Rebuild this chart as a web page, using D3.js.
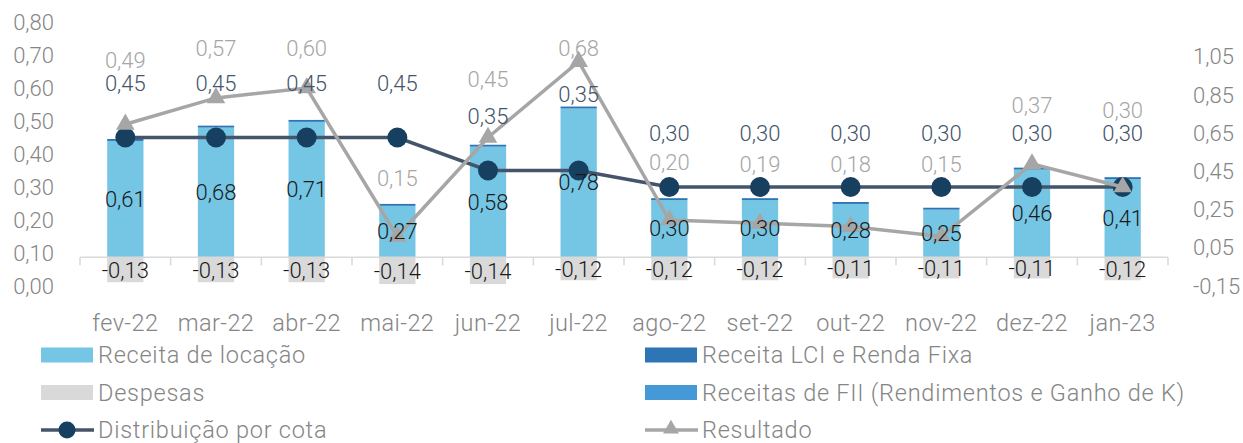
<!DOCTYPE html>
<html>
<head>
<meta charset="utf-8">
<script src="https://cdn.jsdelivr.net/npm/d3@7"></script>
<style>
  body { margin: 0; background: #fff; }
  svg text { font-family: Roboto, "Noto Sans", sans-serif; font-weight: 300; }
</style>
</head>
<body>
<div id="chart"></div>
<script>
// data
const months = ['fev-22','mar-22','abr-22','mai-22','jun-22','jul-22','ago-22','set-22','out-22','nov-22','dez-22','jan-23'];
const receitaLocacao = [0.61, 0.68, 0.71, 0.27, 0.58, 0.78, 0.30, 0.30, 0.28, 0.25, 0.46, 0.41];
const receitaLCI = [0.01, 0.01, 0.01, 0.01, 0.01, 0.01, 0.01, 0.01, 0.01, 0.01, 0.01, 0.01];
const receitaFII = [0, 0, 0, 0, 0, 0, 0, 0, 0, 0, 0, 0];
const despesas = [-0.13, -0.13, -0.13, -0.14, -0.14, -0.12, -0.12, -0.12, -0.11, -0.11, -0.11, -0.12];
const distribuicao = [0.45, 0.45, 0.45, 0.45, 0.35, 0.35, 0.30, 0.30, 0.30, 0.30, 0.30, 0.30];
const resultado = [0.49, 0.57, 0.60, 0.15, 0.45, 0.68, 0.20, 0.19, 0.18, 0.15, 0.37, 0.30];
const leftTicks = [0, 0.1, 0.2, 0.3, 0.4, 0.5, 0.6, 0.7, 0.8];
const rightTicks = [-0.15, 0.05, 0.25, 0.45, 0.65, 0.85, 1.05];

const width = 1243, height = 443;
const plot = {left: 80, right: 1168, top: 22, bottom: 286};

const col = {
  locacao: '#75c6e4', lci: '#2e75b6', fii: '#4499d6', desp: '#d9d9d9',
  dist: '#44546a', distDot: '#173f5f', res: '#a6a6a6',
  axisText: '#858585', barText: '#1a1a1a', axisLine: '#d9d9d9'
};

const br = d3.formatLocale({decimal: ',', thousands: '.', grouping: [3], currency: ['R$', ''], minus: '-'});
const fmt = br.format('.2f');

const svg = d3.select('#chart').append('svg')
  .attr('width', width).attr('height', height);

const x = d3.scaleBand().domain(months)
  .range([plot.left, plot.right])
  .paddingInner(0.6).paddingOuter(0.3);
const step = x.step();
const cx = m => x(m) + x.bandwidth() / 2;

const yL = d3.scaleLinear().domain([0, 0.8]).range([plot.bottom, plot.top]);
const yR = d3.scaleLinear().domain([-0.15, 1.233]).range([plot.bottom, plot.top]);

// left axis labels
svg.append('g').selectAll('text').data(leftTicks).enter().append('text')
  .attr('x', 54).attr('y', d => yL(d))
  .attr('text-anchor', 'end').attr('dominant-baseline', 'central')
  .attr('font-size', 22).attr('fill', col.axisText)
  .text(d => fmt(d));

// right axis labels
svg.append('g').selectAll('text').data(rightTicks).enter().append('text')
  .attr('x', 1193).attr('y', d => yR(d))
  .attr('dominant-baseline', 'central')
  .attr('font-size', 22).attr('fill', col.axisText)
  .text(d => fmt(d));

// stacked bars (right axis)
const stackData = months.map((m, i) => ({m, loc: receitaLocacao[i], fii: receitaFII[i], lci: receitaLCI[i]}));
const stack = d3.stack().keys(['loc', 'fii', 'lci'])(stackData);
const stackColor = {loc: col.locacao, fii: col.fii, lci: col.lci};

svg.append('g').selectAll('g').data(stack).enter().append('g')
  .attr('fill', s => stackColor[s.key])
  .selectAll('rect').data(s => s).enter().append('rect')
  .attr('x', d => x(d.data.m)).attr('width', x.bandwidth())
  .attr('y', d => yR(d[1])).attr('height', d => yR(d[0]) - yR(d[1]));

svg.append('g').selectAll('rect').data(despesas).enter().append('rect')
  .attr('fill', col.desp)
  .attr('x', (d, i) => x(months[i])).attr('width', x.bandwidth())
  .attr('y', yR(0)).attr('height', d => yR(d) - yR(0));

// category axis
const axisY = yR(0);
const ax = svg.append('g').attr('stroke', col.axisLine).attr('stroke-width', 1.5);
ax.append('line').attr('x1', plot.left).attr('x2', plot.right).attr('y1', axisY).attr('y2', axisY);
ax.selectAll('line.tick').data(d3.range(months.length + 1)).enter().append('line')
  .attr('class', 'tick')
  .attr('x1', i => plot.left + i * step).attr('x2', i => plot.left + i * step)
  .attr('y1', axisY).attr('y2', axisY + 8);

svg.append('g').selectAll('text').data(months).enter().append('text')
  .attr('x', d => cx(d)).attr('y', 323)
  .attr('text-anchor', 'middle').attr('dominant-baseline', 'central')
  .attr('font-size', 23.5).attr('fill', col.axisText)
  .attr('letter-spacing', 0.4)
  .text(d => d);

// lines (left axis)
const line = d3.line().x(d => cx(d.m)).y(d => yL(d.v));
const distPts = months.map((m, i) => ({m, v: distribuicao[i]}));
const resPts = months.map((m, i) => ({m, v: resultado[i]}));

svg.append('path').datum(distPts)
  .attr('d', line).attr('fill', 'none')
  .attr('stroke', col.dist).attr('stroke-width', 3.5);
svg.append('g').selectAll('circle').data(distPts).enter().append('circle')
  .attr('cx', d => cx(d.m)).attr('cy', d => yL(d.v)).attr('r', 10)
  .attr('fill', col.distDot);

const tri = d3.symbol().type(d3.symbolTriangle).size(150);
svg.append('path').datum(resPts)
  .attr('d', line).attr('fill', 'none')
  .attr('stroke', col.res).attr('stroke-width', 3.5);
svg.append('g').selectAll('path').data(resPts).enter().append('path')
  .attr('d', tri)
  .attr('transform', d => `translate(${cx(d.m)},${yL(d.v)})`)
  .attr('fill', col.res);

// data labels
const labels = svg.append('g').attr('font-size', 22).attr('text-anchor', 'middle')
  .attr('dominant-baseline', 'central');

labels.selectAll('text.loc').data(receitaLocacao).enter().append('text')
  .attr('x', (d, i) => cx(months[i])).attr('y', d => (yR(0) + yR(d)) / 2)
  .attr('fill', col.barText).text(d => fmt(d));

labels.selectAll('text.desp').data(despesas).enter().append('text')
  .attr('x', (d, i) => cx(months[i])).attr('y', d => (yR(0) + yR(d)) / 2 + 1)
  .attr('fill', col.barText).text(d => fmt(d));

// line labels sit above their points, kept clear of bar tops, dots and each other
const half = 11;
months.forEach((m, i) => {
  const barTop = yR(receitaLocacao[i] + receitaLCI[i] + receitaFII[i]);
  const dyPt = yL(distribuicao[i]);
  let dy = dyPt - 54;
  if (dy + half > barTop && dyPt > barTop) dy = barTop - half - 1;
  let ry = Math.max(yL(resultado[i]) - 58, yL(0.72));
  if (ry > dyPt - 10 - half - 2 && ry < dyPt + 10) ry = dyPt - 10 - half - 2;
  if (Math.abs(ry - dy) < 2 * half) ry = dy - 2 * half - 1;

  labels.append('text').attr('x', cx(m)).attr('y', dy)
    .attr('fill', col.dist).text(fmt(distribuicao[i]));
  labels.append('text').attr('x', cx(m)).attr('y', ry)
    .attr('fill', col.res).text(fmt(resultado[i]));
});

// legend
const legendItems = [
  {name: 'Receita de locação', type: 'rect', color: col.locacao, c: 0, r: 0},
  {name: 'Despesas', type: 'rect', color: col.desp, c: 0, r: 1},
  {name: 'Distribuição por cota', type: 'dot', color: col.dist, c: 0, r: 2},
  {name: 'Receita LCI e Renda Fixa', type: 'rect', color: col.lci, c: 1, r: 0},
  {name: 'Receitas de FII (Rendimentos e Ganho de K)', type: 'rect', color: col.fii, c: 1, r: 1},
  {name: 'Resultado', type: 'tri', color: col.res, c: 1, r: 2}
];
const legend = svg.append('g');
legendItems.forEach(it => {
  const lx = it.c === 0 ? 41 : 645;
  const ly = 355 + it.r * 37.5;
  const g = legend.append('g').attr('transform', `translate(${lx},${ly})`);
  if (it.type === 'rect') {
    g.append('rect').attr('x', 0).attr('y', -7.5).attr('width', 52).attr('height', 15).attr('fill', it.color);
  } else {
    g.append('line').attr('x1', 0).attr('x2', 53).attr('y1', 0).attr('y2', 0)
      .attr('stroke', it.color).attr('stroke-width', 3.5);
    if (it.type === 'dot') {
      g.append('circle').attr('cx', 26).attr('cy', 0).attr('r', 8.5).attr('fill', col.distDot);
    } else {
      g.append('path').attr('d', d3.symbol().type(d3.symbolTriangle).size(110))
        .attr('transform', 'translate(26,-1)').attr('fill', it.color);
    }
  }
  g.append('text').attr('x', 57).attr('y', 0)
    .attr('dominant-baseline', 'central')
    .attr('font-size', 23.5).attr('letter-spacing', 0.75).attr('fill', col.axisText)
    .text(it.name);
});
</script>
</body>
</html>
